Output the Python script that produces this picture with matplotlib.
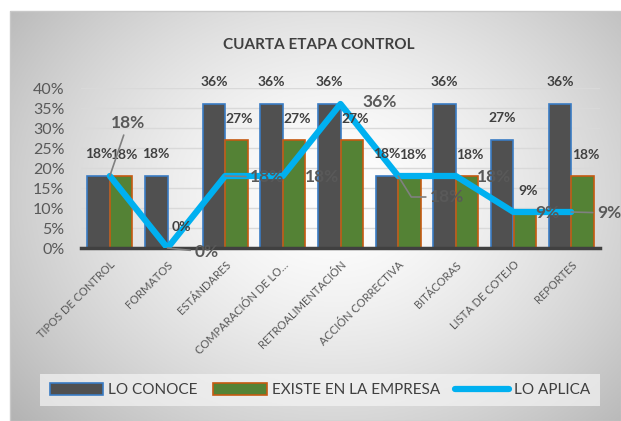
import numpy as np
import matplotlib
matplotlib.use("Agg")
import matplotlib.pyplot as plt
import matplotlib.transforms as mtransforms

plt.rcParams['font.family'] = ['Lato', 'DejaVu Sans']

categorias = ["TIPOS DE CONTROL", "FORMATOS", "ESTÁNDARES", "COMPARACIÓN DE LO…",
              "RETROALIMENTACIÓN", "ACCIÓN CORRECTIVA", "BITÁCORAS",
              "LISTA DE COTEJO", "REPORTES"]
lo_conoce = [0.18, 0.18, 0.36, 0.36, 0.36, 0.18, 0.36, 0.27, 0.36]
existe = [0.18, 0.00, 0.27, 0.27, 0.27, 0.18, 0.18, 0.09, 0.18]
lo_aplica = [0.18, 0.00, 0.18, 0.18, 0.36, 0.18, 0.18, 0.09, 0.09]
yticks = [0, 0.05, 0.10, 0.15, 0.20, 0.25, 0.30, 0.35, 0.40]

# label offsets for the line (pixels) and which ones have leader lines
off_linea = [(18, 53), (39, -4), (42, -1), (39, -1), (39, 2), (49, -21), (38, -1), (34, -1), (38, -1)]
guia = [True, True, True, False, False, True, False, False, True]

fig = plt.figure(figsize=(6.21, 4.21), dpi=100)

# gradient background of the chart area
bg = fig.add_axes([10/621, 0, 611/621, 410/421])
gx, gy = np.meshgrid(np.linspace(0, 1, 300), np.linspace(0, 1, 200))
r = np.sqrt(((gx - 0.53) / 0.62) ** 2 + ((gy - 0.45) / 0.75) ** 2)
g = 1 - 0.25 * np.clip(r, 0, 1.2) ** 1.5
bg.imshow(np.dstack([g, g, g]), aspect='auto', extent=[0, 1, 0, 1], origin='upper')
bg.set_axis_off()
fig.patches.append(plt.Rectangle((10/621, 0), 611/621, 410/421, transform=fig.transFigure,
                                 fill=False, edgecolor='#c8c8c8', lw=1))

ax = fig.add_axes([81/621, (421-248)/421, 519/621, 160/421])
ax.patch.set_alpha(0)
x = np.arange(len(categorias))
w = 0.39
b1 = ax.bar(x - w/2, lo_conoce, w, color='#505050', edgecolor='#3a7cc4', lw=1.2, zorder=2)
b2 = ax.bar(x + w/2, existe, w, color='#548235', edgecolor='#c55a11', lw=1.2, zorder=2)
l1, = ax.plot(x, lo_aplica, color='#00b0f0', lw=4.5, solid_capstyle='round',
              solid_joinstyle='round', zorder=3)

for i in range(len(x)):
    ax.annotate(f"{lo_conoce[i]*100:.0f}%", (x[i] - w/2, lo_conoce[i]), xytext=(0, 22),
                textcoords='offset pixels', ha='center', va='center', fontsize=10,
                fontweight='bold', color='#404040', zorder=4, annotation_clip=False)
    ax.annotate(f"{existe[i]*100:.0f}%", (x[i] + w/2, existe[i]), xytext=(3, 21),
                textcoords='offset pixels', ha='center', va='center', fontsize=10,
                fontweight='bold', color='#404040', zorder=4, annotation_clip=False)
    dx, dy = off_linea[i]
    props = None
    if guia[i]:
        cs = 'angle,angleA=0,angleB=122,rad=0' if i == 5 else 'arc3'
        props = dict(arrowstyle='-', color='#808080', lw=1.2, shrinkA=1, shrinkB=0,
                     connectionstyle=cs)
    ax.annotate(f"{lo_aplica[i]*100:.0f}%", (x[i], lo_aplica[i]), xytext=(dx, dy),
                textcoords='offset pixels', ha='center', va='center', fontsize=12.5,
                fontweight='bold', color='#595959', zorder=5, annotation_clip=False,
                arrowprops=props)

ax.set_xlim(-0.5, len(x) - 0.5)
ax.set_ylim(0, 0.40)
ax.set_yticks(yticks)
ax.set_yticklabels([f"{v*100:.0f}%" for v in yticks])
ax.yaxis.grid(True, color='#d9d9d9', lw=1)
ax.set_axisbelow(True)
ax.set_xticks(x)
ax.set_xticklabels(categorias, rotation=45, ha='right', rotation_mode='anchor',
                   fontsize=8, color='#595959')
shift = mtransforms.ScaledTranslation(-10/100, -2/100, fig.dpi_scale_trans)
for t in ax.get_xticklabels():
    t.set_transform(t.get_transform() + shift)
ax.tick_params(axis='both', length=0)
ax.tick_params(axis='y', labelsize=11.5, labelcolor='#595959', pad=12)
ax.tick_params(axis='x', pad=8)
for s in ['left', 'right', 'top']:
    ax.spines[s].set_visible(False)
ax.spines['bottom'].set_color('#404040')
ax.spines['bottom'].set_linewidth(2.5)

fig.text(319/621, 1 - 45/421, "CUARTA ETAPA CONTROL", ha='center', va='center',
         fontsize=11, fontweight='bold', color='#404040')

leg = fig.legend([b1, b2, l1], ["LO CONOCE", "EXISTE EN LA EMPRESA", "LO APLICA"],
                 loc='center', bbox_to_anchor=(320/621, 1 - 390/421), ncol=3,
                 fontsize=11, handlelength=3.5, handleheight=0.9, handletextpad=0.35,
                 columnspacing=1.0, frameon=True, fancybox=False, borderpad=0.6)
leg.get_frame().set_facecolor('#f4f4f4')
leg.get_frame().set_alpha(0.7)
leg.get_frame().set_edgecolor('none')
for t in leg.get_texts():
    t.set_color('#404040')

fig.savefig('out.png', dpi=100)
